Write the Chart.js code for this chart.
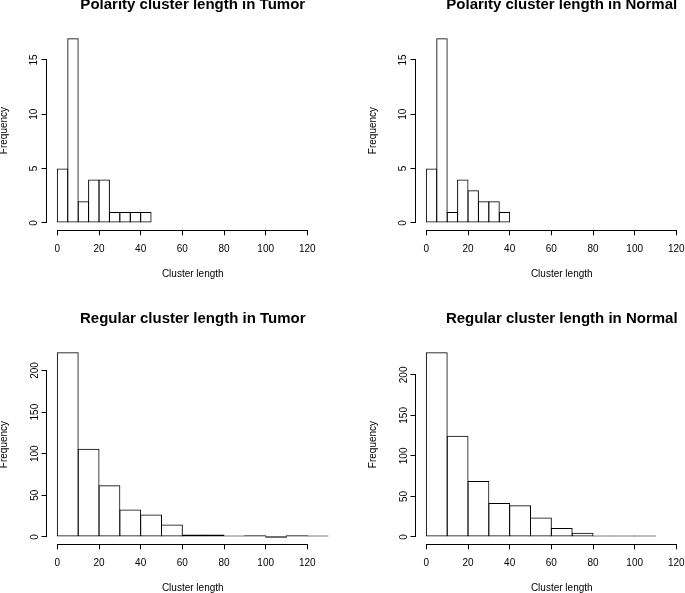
<!DOCTYPE html>
<html>
<head>
<meta charset="utf-8">
<title>Cluster length histograms</title>
<script src="https://cdn.jsdelivr.net/npm/chart.js@4.4.1/dist/chart.umd.min.js"></script>
<style>
  html, body { margin: 0; padding: 0; background: #fff; }
  body { width: 685px; height: 593px; position: relative; overflow: hidden; }
  canvas { position: absolute; }
  #polTumor { left: -10px; top: -20px; }
  #polNormal { left: 359.3px; top: -20px; }
  #regTumor { left: -10px; top: 293.5px; }
  #regNormal { left: 359.3px; top: 293.5px; }
</style>
</head>
<body>
<canvas id="polTumor" width="360" height="310"></canvas>
<canvas id="polNormal" width="360" height="310"></canvas>
<canvas id="regTumor" width="360" height="310"></canvas>
<canvas id="regNormal" width="360" height="310"></canvas>
<script>
// bin midpoints (polarity bins are 5 wide, regular bins are 10 wide)
const polarityTumorMids = [2.5, 7.5, 12.5, 17.5, 22.5, 27.5, 32.5, 37.5, 42.5];
const polarityTumorCounts = [5, 17, 2, 4, 4, 1, 1, 1, 1];

const polarityNormalMids = [2.5, 7.5, 12.5, 17.5, 22.5, 27.5, 32.5, 37.5];
const polarityNormalCounts = [5, 17, 1, 4, 3, 2, 2, 1];

const regularTumorMids = [5, 15, 25, 35, 45, 55, 65, 75, 85, 95, 105, 115, 125];
const regularTumorCounts = [222, 106, 62, 33, 27, 15, 3, 3, 1, 2, 0, 2, 1];

const regularNormalMids = [5, 15, 25, 35, 45, 55, 65, 75, 85, 95, 105];
const regularNormalCounts = [228, 125, 69, 42, 39, 24, 11, 5, 1, 1, 1];

const xTicks = [0, 20, 40, 60, 80, 100, 120];
const polarityYTicks = [0, 5, 10, 15];
const regularYTicks = [0, 50, 100, 150, 200];

const xLimit = [0, 130];

Chart.defaults.font.family = "'Liberation Sans', Arial, Helvetica, sans-serif";
Chart.defaults.color = '#000';

// R style axis lines: only from first to last tick
const rAxisLines = {
  id: 'rAxisLines',
  afterDraw(chart) {
    const ctx = chart.ctx;
    const xs = chart.scales.x;
    const ys = chart.scales.y;
    const xt = xs.ticks, yt = ys.ticks;
    const ay = Math.round(xs.top) + 0.5;
    const ax = Math.round(ys.right) - 0.5;
    ctx.save();
    ctx.strokeStyle = '#000';
    ctx.lineWidth = 1;
    ctx.beginPath();
    ctx.moveTo(xs.getPixelForValue(xt[0].value), ay);
    ctx.lineTo(xs.getPixelForValue(xt[xt.length - 1].value), ay);
    ctx.moveTo(ax, ys.getPixelForValue(yt[0].value));
    ctx.lineTo(ax, ys.getPixelForValue(yt[yt.length - 1].value));
    ctx.stroke();
    ctx.restore();
  }
};

function makeHistogram(id, title, mids, counts, yTicks, yTickPad, barPct) {
  const yMax = Math.max(...counts);
  const xSpan = xLimit[1] - xLimit[0];
  // tick padding is counted twice in the axis width, keep the axis title in place
  const yTitlePad = 19 - 2 * yTickPad;
  return new Chart(document.getElementById(id), {
    type: 'bar',
    data: {
      datasets: [{
        data: mids.map((m, i) => ({ x: m, y: counts[i] })),
        backgroundColor: 'rgba(255,255,255,0)',
        borderColor: '#000',
        borderWidth: 1,
        borderSkipped: false,
        inflateAmount: 0,
        minBarLength: 1.5,
        barPercentage: barPct,
        categoryPercentage: 1
      }]
    },
    options: {
      responsive: false,
      animation: false,
      events: [],
      layout: { padding: { left: 8.5, right: 11, top: 0, bottom: 9.7 } },
      plugins: {
        legend: { display: false },
        tooltip: { enabled: false },
        title: {
          display: true,
          text: title,
          fullSize: false,
          color: '#000',
          font: { size: 15, weight: 'bold' },
          padding: { top: 16, bottom: 16.8 }
        }
      },
      scales: {
        x: {
          type: 'linear',
          offset: false,
          min: xLimit[0] - 0.04 * xSpan,
          max: xLimit[1] + 0.04 * xSpan,
          afterBuildTicks: s => { s.ticks = xTicks.map(v => ({ value: v })); },
          border: { display: false },
          grid: { drawOnChartArea: false, drawTicks: true, tickLength: 5, color: '#000', lineWidth: 1, offset: false },
          ticks: { font: { size: 10 }, padding: 7.8, maxRotation: 0, minRotation: 0, autoSkip: false },
          title: { display: true, text: 'Cluster length', font: { size: 10 }, padding: { top: 5.4, bottom: 0 } }
        },
        y: {
          min: -0.04 * yMax,
          max: 1.04 * yMax,
          afterBuildTicks: s => { s.ticks = yTicks.map(v => ({ value: v })); },
          border: { display: false },
          grid: { drawOnChartArea: false, drawTicks: true, tickLength: 5, color: '#000', lineWidth: 1 },
          ticks: { font: { size: 10 }, padding: yTickPad, minRotation: 90, maxRotation: 90, crossAlign: 'center', autoSkip: false },
          title: { display: true, text: 'Frequency', font: { size: 10 }, padding: { top: 0, bottom: yTitlePad } }
        }
      }
    },
    plugins: [rAxisLines]
  });
}

makeHistogram('polTumor', 'Polarity cluster length in Tumor', polarityTumorMids, polarityTumorCounts, polarityYTicks, 1.64, 1.096);
makeHistogram('polNormal', 'Polarity cluster length in Normal', polarityNormalMids, polarityNormalCounts, polarityYTicks, 1.64, 1.096);
makeHistogram('regTumor', 'Regular cluster length in Tumor', regularTumorMids, regularTumorCounts, regularYTicks, -2, 1.048);
makeHistogram('regNormal', 'Regular cluster length in Normal', regularNormalMids, regularNormalCounts, regularYTicks, -2, 1.048);
</script>
</body>
</html>
